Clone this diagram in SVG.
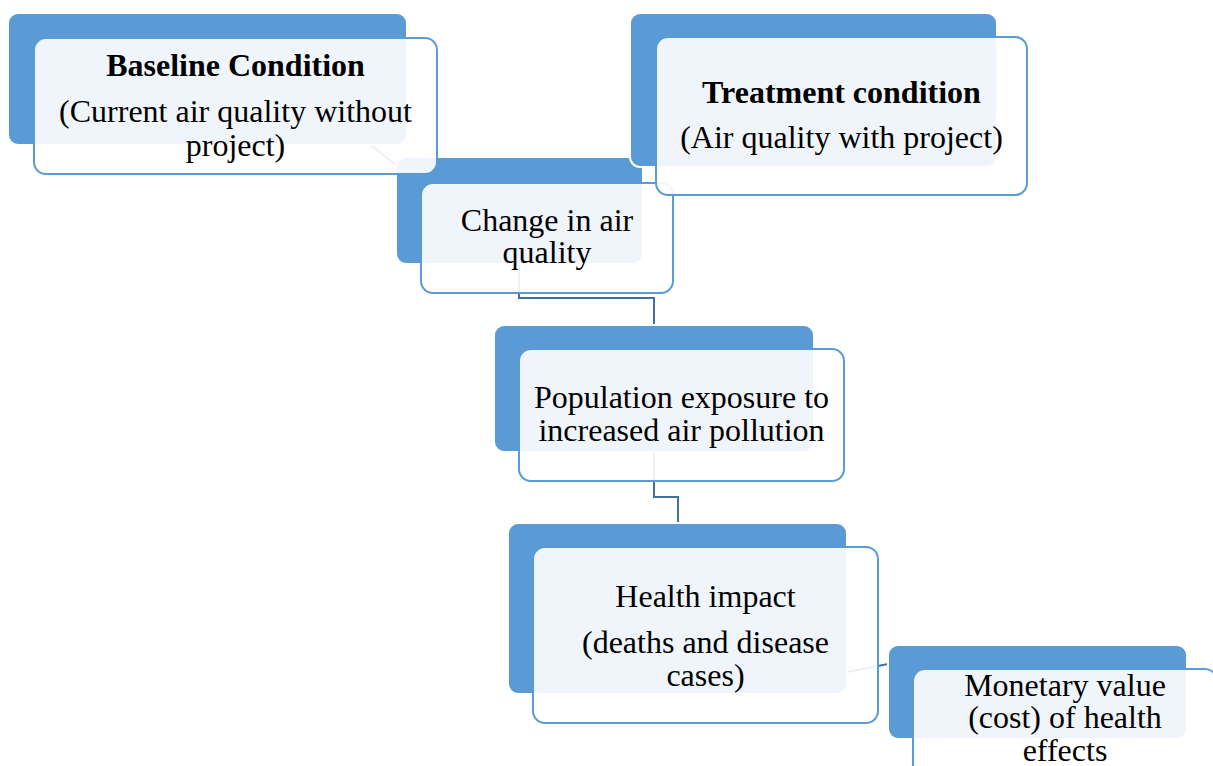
<svg xmlns="http://www.w3.org/2000/svg" width="1213" height="766" viewBox="0 0 1213 766">
  <style>
    .back { fill: #5B9BD5; stroke: #FFFFFF; stroke-width: 2; }
    .front { fill: #FFFFFF; fill-opacity: 0.9; stroke: #5B9BD5; stroke-width: 2; }
    .conn { fill: none; stroke: #41719C; stroke-width: 2; }
    .t { font-family: "Liberation Serif", "Times New Roman", serif; font-size: 32px; fill: #000000; text-anchor: middle; }
    .b { font-weight: bold; }
  </style>
  <rect width="1213" height="766" fill="#FFFFFF"/>

  <!-- connectors sit beneath the nodes; the translucent front panels fade them -->
  <g id="connectors">
    <line class="conn" x1="371" y1="145" x2="396" y2="165"/>
    <polyline class="conn" points="519,264 519,298 654,298 654,325"/>
    <polyline class="conn" points="654,452 654,497 678,497 678,523"/>
    <line class="conn" x1="847" y1="672" x2="888" y2="664"/>
  </g>

  <g id="node-change">
    <rect class="back" x="396" y="157" width="247" height="107" rx="10"/>
    <rect class="front" x="421" y="183" width="252" height="110" rx="12"/>
    <text class="t" x="547" y="231">Change in air</text>
    <text class="t" x="547" y="263">quality</text>
  </g>

  <g id="node-treatment">
    <rect class="back" x="630" y="13" width="367" height="154" rx="10"/>
    <rect class="front" x="656" y="37" width="371" height="158" rx="12"/>
    <text class="t b" x="841.5" y="103">Treatment condition</text>
    <text class="t" x="841.5" y="148">(Air quality with project)</text>
  </g>

  <g id="node-baseline">
    <rect class="back" x="8" y="13" width="399" height="132" rx="10"/>
    <rect class="front" x="34" y="38" width="403" height="136" rx="12"/>
    <text class="t b" x="235.5" y="76">Baseline Condition</text>
    <text class="t" x="235.5" y="122">(Current air quality without</text>
    <text class="t" x="235.5" y="156">project)</text>
  </g>

  <g id="node-exposure">
    <rect class="back" x="494" y="325" width="320" height="127" rx="10"/>
    <rect class="front" x="519" y="349" width="325" height="132" rx="12"/>
    <text class="t" x="681.5" y="408">Population exposure to</text>
    <text class="t" x="681.5" y="441">increased air pollution</text>
  </g>

  <g id="node-health">
    <rect class="back" x="508" y="523" width="339" height="171" rx="10"/>
    <rect class="front" x="533" y="547" width="345" height="176" rx="12"/>
    <text class="t" x="705.5" y="607">Health impact</text>
    <text class="t" x="705.5" y="653">(deaths and disease</text>
    <text class="t" x="705.5" y="686">cases)</text>
  </g>

  <g id="node-monetary">
    <rect class="back" x="888" y="645" width="299" height="94" rx="10"/>
    <rect class="front" x="913" y="669" width="304" height="110" rx="12"/>
    <text class="t" x="1065" y="696">Monetary value</text>
    <text class="t" x="1065" y="728">(cost) of health</text>
    <text class="t" x="1065" y="761">effects</text>
  </g>
</svg>
